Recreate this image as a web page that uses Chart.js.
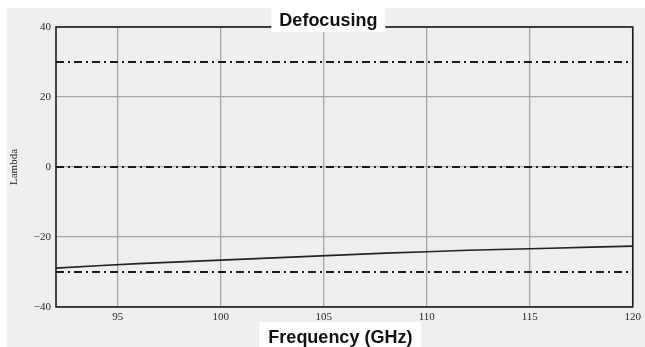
<!DOCTYPE html>
<html>
<head>
<meta charset="utf-8">
<script src="https://cdn.jsdelivr.net/npm/chart.js@4/dist/chart.umd.min.js"></script>
<style>
  html, body { margin: 0; padding: 0; background: #ffffff; }
  canvas { display: block; }
</style>
</head>
<body>
<canvas id="c" width="645" height="347"></canvas>
<script>
// Frequency sweep (GHz) and the computed defocusing parameter lambda
const frequencies = [92, 94, 96, 98, 100, 102, 104, 106, 108, 110, 112, 114, 116, 118, 120];
const lambdaValues = [-28.9, -28.2, -27.6, -27.1, -26.6, -26.1, -25.6, -25.1, -24.6, -24.2, -23.8, -23.5, -23.2, -22.9, -22.6];

// Horizontal reference levels (dash-dot)
const referenceLevels = [30, 0, -30];

// Axis ranges and tick labels
const xRange = [92, 120];
const yRange = [-40, 40];
const xTicks = [95, 100, 105, 110, 115, 120];
const yTicks = [-40, -20, 0, 20, 40];

const chartTitle = 'Defocusing';
const xTitle = 'Frequency (GHz)';
const yTitle = 'Lambda';

const tickFont = { family: '"Liberation Serif", "Times New Roman", serif', size: 11 };
const titleFontCss = 'bold 18px "Liberation Sans", Arial, Helvetica, sans-serif';

const datasets = [
  {
    label: 'lambda',
    data: frequencies.map((f, i) => ({ x: f, y: lambdaValues[i] })),
    borderColor: '#222222',
    borderWidth: 1.6,
    pointRadius: 0,
    tension: 0,
    order: 0
  }
];
referenceLevels.forEach(level => {
  datasets.push({
    label: 'ref ' + level,
    data: [{ x: xRange[0], y: level }, { x: xRange[1], y: level }],
    borderColor: '#1a1a1a',
    borderWidth: 1.8,
    borderDash: [8, 4, 2, 4],
    pointRadius: 0,
    order: 1
  });
});

// Grey panel behind the whole figure, plot frame, and boxed titles
const framePlugin = {
  id: 'frame',
  beforeDraw(chart) {
    const ctx = chart.ctx;
    ctx.save();
    ctx.fillStyle = '#efefef';
    ctx.fillRect(7, 8, chart.width - 7, chart.height - 8);
    ctx.restore();
  },
  afterDatasetsDraw(chart) {
    const { ctx, chartArea: a } = chart;
    ctx.save();
    ctx.strokeStyle = '#1c1c1c';
    ctx.lineWidth = 1.6;
    ctx.strokeRect(a.left, a.top, a.right - a.left, a.bottom - a.top);
    ctx.restore();
  },
  afterDraw(chart) {
    const { ctx, chartArea: a } = chart;
    const mid = (a.left + a.right) / 2;
    ctx.save();
    ctx.font = titleFontCss;
    ctx.textAlign = 'center';
    ctx.textBaseline = 'alphabetic';

    // top title with white backing box over the frame
    const tx = mid - 16;
    const tw = ctx.measureText(chartTitle).width;
    ctx.fillStyle = '#ffffff';
    ctx.fillRect(tx - tw / 2 - 8, 8, tw + 16, 24);
    ctx.fillStyle = '#111111';
    ctx.fillText(chartTitle, tx, 26);

    // x axis title with white backing box
    const xx = mid - 4;
    const xw = ctx.measureText(xTitle).width;
    ctx.fillStyle = '#ffffff';
    ctx.fillRect(xx - xw / 2 - 9, 322, xw + 18, chart.height - 322);
    ctx.fillStyle = '#111111';
    ctx.fillText(xTitle, xx, 343);
    ctx.restore();
  }
};

new Chart(document.getElementById('c'), {
  type: 'line',
  data: { datasets },
  plugins: [framePlugin],
  options: {
    responsive: false,
    animation: false,
    devicePixelRatio: 1,
    layout: { padding: { left: 0, top: 27, right: 5, bottom: 0 } },
    plugins: {
      legend: { display: false },
      tooltip: { enabled: false },
      title: { display: false }
    },
    scales: {
      x: {
        type: 'linear',
        min: xRange[0],
        max: xRange[1],
        afterBuildTicks(scale) { scale.ticks = xTicks.map(v => ({ value: v })); },
        afterFit(scale) { scale.height = 40; },
        grid: { color: '#a6a6a6', lineWidth: 1.3, drawTicks: false },
        border: { display: false },
        ticks: {
          color: '#2a2a2a',
          font: tickFont,
          padding: 4,
          maxRotation: 0,
          callback: v => String(v)
        }
      },
      y: {
        type: 'linear',
        min: yRange[0],
        max: yRange[1],
        afterBuildTicks(scale) { scale.ticks = yTicks.map(v => ({ value: v })); },
        afterFit(scale) { scale.width = 56; },
        grid: { color: '#a6a6a6', lineWidth: 1.3, drawTicks: false },
        border: { display: false },
        title: {
          display: true,
          text: yTitle,
          color: '#222222',
          font: { family: '"Liberation Serif", "Times New Roman", serif', size: 11 },
          padding: { top: 8, bottom: 4 }
        },
        ticks: {
          color: '#2a2a2a',
          font: tickFont,
          padding: 5,
          callback: v => String(v).replace('-', '\u2212')
        }
      }
    }
  }
});
</script>
</body>
</html>
